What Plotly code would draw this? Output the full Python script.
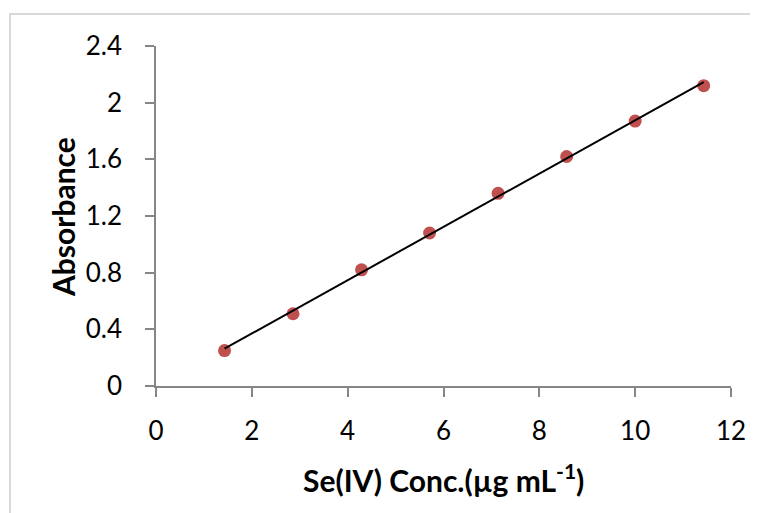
import numpy as np
import plotly.graph_objects as go

conc = [1.43, 2.86, 4.29, 5.71, 7.14, 8.57, 10.0, 11.43]
absorbance = [0.25, 0.51, 0.82, 1.08, 1.36, 1.62, 1.87, 2.12]
x_ticks = [0, 2, 4, 6, 8, 10, 12]
y_ticks = [0, 0.4, 0.8, 1.2, 1.6, 2, 2.4]
y_tick_text = ["0", "0.4", "0.8", "1.2", "1.6", "2", "2.4"]

slope, intercept = np.polyfit(conc, absorbance, 1)
fit_x = [min(conc), max(conc)]
fit_y = [slope * v + intercept for v in fit_x]

W, H = 758, 513
OFF = 8  # page body margin
# target plot area in page pixels
PX0, PX1, PY0, PY1 = 156, 731, 46, 386
L = PX0 - OFF
T = PY0 - OFF
R = W - (PX1 - OFF)
B = H - (PY1 - OFF)
pw, ph = PX1 - PX0, PY1 - PY0

def px(xp):
    return (xp - PX0) / pw

def py(yp):
    return (PY1 - yp) / ph

fig = go.Figure()
fig.add_trace(go.Scatter(x=conc, y=absorbance, mode="markers",
                         marker=dict(size=13, color="#C0504D"),
                         showlegend=False))
fig.add_trace(go.Scatter(x=fit_x, y=fit_y, mode="lines",
                         line=dict(color="black", width=2),
                         showlegend=False))

font = "Lato"
fig.update_layout(
    width=W, height=H,
    margin=dict(l=L, r=R, t=T, b=B),
    paper_bgcolor="white", plot_bgcolor="white",
    font=dict(family=font, size=26, color="black"),
    xaxis=dict(range=[0, 12], tickvals=x_ticks, showgrid=False, zeroline=False,
               showline=True, linecolor="#868686", linewidth=1.5,
               ticks="outside", ticklen=9, tickcolor="#868686", tickwidth=1.5,
               ticklabelstandoff=12, tickfont=dict(family=font, size=26, color="black")),
    yaxis=dict(range=[0, 2.4], tickvals=y_ticks, ticktext=y_tick_text,
               showgrid=False, zeroline=False,
               showline=True, linecolor="#868686", linewidth=1.5,
               ticks="outside", ticklen=9, tickcolor="#868686", tickwidth=1.5,
               ticklabelstandoff=18, tickfont=dict(family=font, size=26, color="black")),
    shapes=[dict(type="rect", xref="paper", yref="paper",
                 x0=px(10), x1=px(W + 20), y0=py(H + 20), y1=py(14),
                 line=dict(color="#D9D9D9", width=2), layer="below")],
    annotations=[
        dict(text="<b>Absorbance</b>", xref="paper", yref="paper",
             x=px(63), y=py(217), textangle=-90, showarrow=False,
             xanchor="center", yanchor="middle",
             font=dict(family=font, size=30, color="black")),
        dict(text="<b>Se(IV) Conc.(µg mL<sup>-1</sup>)</b>", xref="paper", yref="paper",
             x=px(443), y=py(478), showarrow=False,
             xanchor="center", yanchor="middle",
             font=dict(family=font, size=30, color="black")),
    ],
)
fig.write_html("out.html")
